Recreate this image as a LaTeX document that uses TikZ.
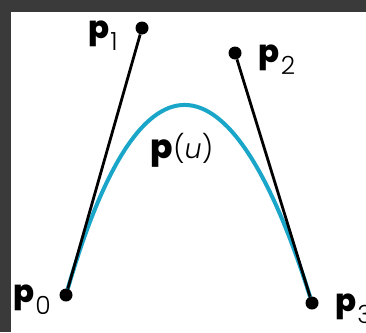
\documentclass[tikz,border=0pt]{standalone}
\usepackage{fontspec}
\setmainfont{Poppins}[BoldFont={Poppins ExtraBold}]
\newfontfamily\lightfont{Poppins Light}[ItalicFont={Poppins Light Italic}]
\usepackage{tikz}
\usetikzlibrary{positioning,backgrounds}
\definecolor{framegray}{HTML}{3A3A3A}
\definecolor{curveblue}{HTML}{1AA6C9}
\newcommand{\ptlabel}[1]{{\fontsize{31}{31}\selectfont\bfseries p}\hspace{1pt}\raisebox{-12pt}{\fontsize{25}{25}\selectfont\lightfont #1}}
\begin{document}
\begin{tikzpicture}[x=1pt, y=-1pt,
  dot/.style={circle, fill=black, inner sep=0pt, minimum size=13pt},
  lbl/.style={inner sep=0pt},
  ctrl/.style={line width=2.8pt, black},
  curve/.style={line width=4pt, curveblue}
]
  \useasboundingbox (0,0) rectangle (366,332);
  \node[dot] (p0) at (66,295) {};
  \node[dot] (p1) at (142,28) {};
  \node[dot] (p2) at (235,53) {};
  \node[dot] (p3) at (312,303) {};
  \node[lbl] (l0) at (32,300) {\ptlabel{0}};
  \node[lbl] (l1) at (103,36) {\ptlabel{1}};
  \node[lbl] (l2) at (277,60) {\ptlabel{2}};
  \node[lbl, anchor=west] (l3) at (335,309) {\ptlabel{3}};
  \node[lbl] (pu) at (182,150) {{\fontsize{33}{33}\selectfont\bfseries p}{\fontsize{27}{27}\selectfont\lightfont(\textit{u})}};
  \begin{pgfonlayer}{background}
    \fill[framegray] (0,0) rectangle (366,332);
    \fill[white] (11,12) rectangle (366,332);
    \draw[curve] (p0.center) .. controls (p1.center) and (p2.center) .. (p3.center);
    \foreach \i/\j in {p0/p1,p3/p2} \draw[ctrl] (\i) -- (\j);
  \end{pgfonlayer}
\end{tikzpicture}
\end{document}
